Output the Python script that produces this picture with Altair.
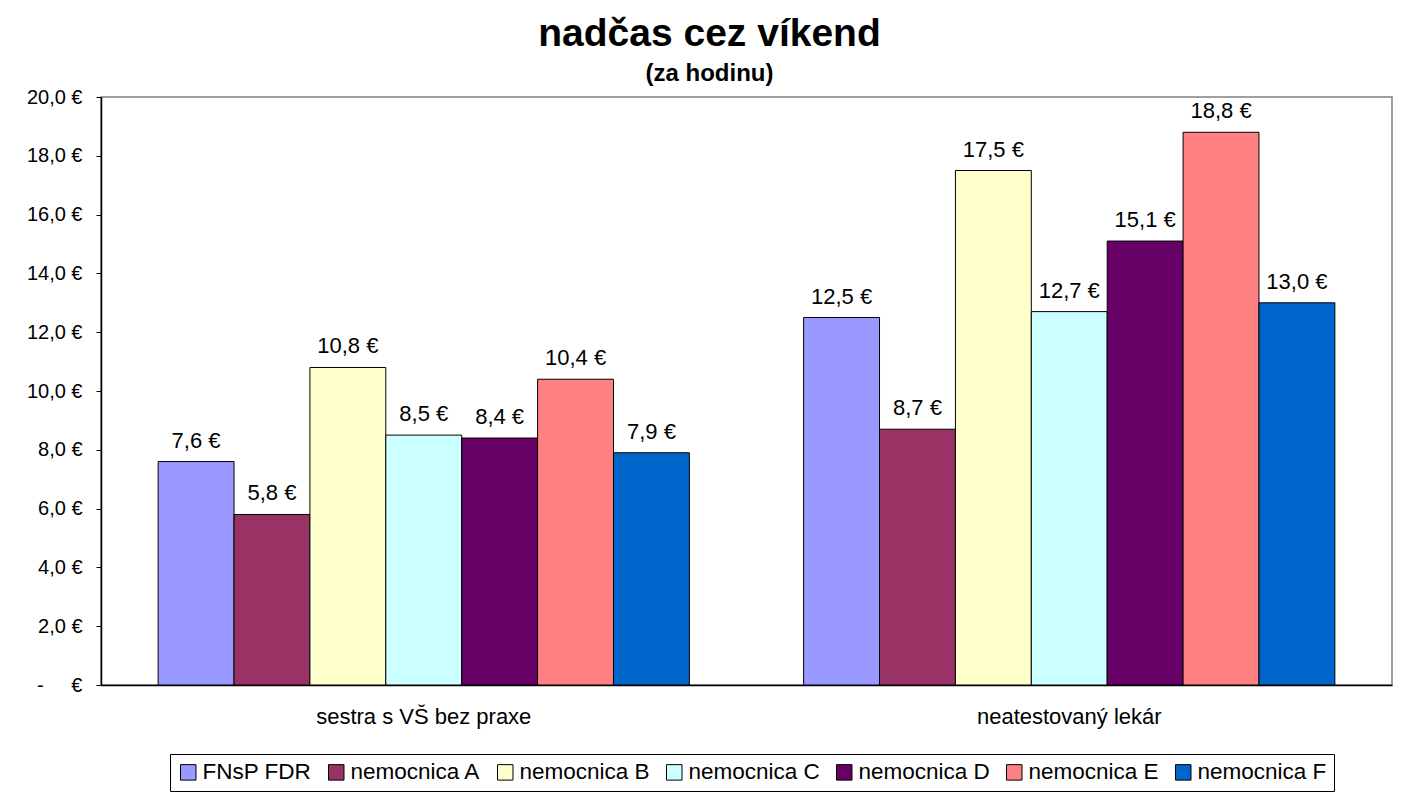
import altair as alt
import pandas as pd

groups = ["sestra s VŠ bez praxe", "neatestovaný lekár"]
series = ["FNsP FDR", "nemocnica A", "nemocnica B", "nemocnica C",
          "nemocnica D", "nemocnica E", "nemocnica F"]
colors = ["#9999FF", "#993366", "#FFFFCC", "#CCFFFF", "#660066", "#FF8080", "#0066CC"]
sestra = [7.6, 5.8, 10.8, 8.5, 8.4, 10.4, 7.9]
lekar = [12.5, 8.7, 17.5, 12.7, 15.1, 18.8, 13.0]
y_ticks = [0, 2, 4, 6, 8, 10, 12, 14, 16, 18, 20]

rows = []
for s, v in zip(series, sestra):
    rows.append({"group": groups[0], "series": s, "value": v})
for s, v in zip(series, lekar):
    rows.append({"group": groups[1], "series": s, "value": v})
df = pd.DataFrame(rows)

FONT = "Liberation Sans"

base = alt.Chart(df).encode(
    x=alt.X("group:N", sort=groups, title=None,
            scale=alt.Scale(paddingInner=0.177, paddingOuter=0.0885),
            axis=alt.Axis(labelAngle=0, ticks=False, labelFontSize=22, labelFont=FONT,
                          labelColor="black", labelPadding=21, labelLimit=0,
                          domainColor="black", domainWidth=1.5)),
    xOffset=alt.XOffset("series:N", sort=series, scale=alt.Scale(paddingInner=0, paddingOuter=0)),
    y=alt.Y("value:Q", title=None, scale=alt.Scale(domain=[0, 20], nice=False),
            axis=alt.Axis(values=y_ticks, grid=False, tickSize=5, tickColor="black",
                          domainColor="black", domainWidth=1.5, labelFontSize=20,
                          labelFont=FONT, labelColor="black", labelPadding=14,
                          labelExpr="datum.value == 0 ? '-\u00a0\u00a0\u00a0\u00a0\u00a0€' : replace(format(datum.value, '.1f'), '.', ',') + ' €'")),
)

bars = base.mark_bar(stroke="black", strokeWidth=1).encode(
    color=alt.Color("series:N", sort=series,
                    scale=alt.Scale(domain=series, range=colors),
                    legend=alt.Legend(title=None, orient="none", legendX=69, legendY=657,
                                      direction="horizontal", columns=7,
                                      labelFontSize=22.5, labelFont=FONT, labelColor="black",
                                      symbolType="square", symbolSize=240,
                                      symbolStrokeColor="black", symbolStrokeWidth=1,
                                      symbolOpacity=1, labelOffset=3, columnPadding=13,
                                      strokeColor="black", fillColor="white", padding=7)),
)

labels = base.mark_text(baseline="alphabetic", dy=-14, fontSize=22, font=FONT,
                        color="black").transform_calculate(
    label="replace(format(datum.value, '.1f'), '.', ',') + ' €'"
).encode(text="label:N")

chart = alt.layer(bars, labels).properties(
    width=1291, height=588,
    autosize=alt.AutoSizeParams(type="none"),
    padding={"left": 93, "top": 89, "right": 10, "bottom": 108},
    background="white",
    title=alt.TitleParams(text="nadčas cez víkend", subtitle="(za hodinu)",
                          font=FONT, fontSize=39, fontWeight="bold", color="black",
                          subtitleFont=FONT, subtitleFontSize=24, subtitleFontWeight="bold",
                          subtitleColor="black", anchor="middle", dx=-37, offset=1,
                          subtitlePadding=8),
).configure_view(stroke="#808080", strokeWidth=1.5)

chart.save("out.html", embed_options={"renderer": "svg", "actions": False})
